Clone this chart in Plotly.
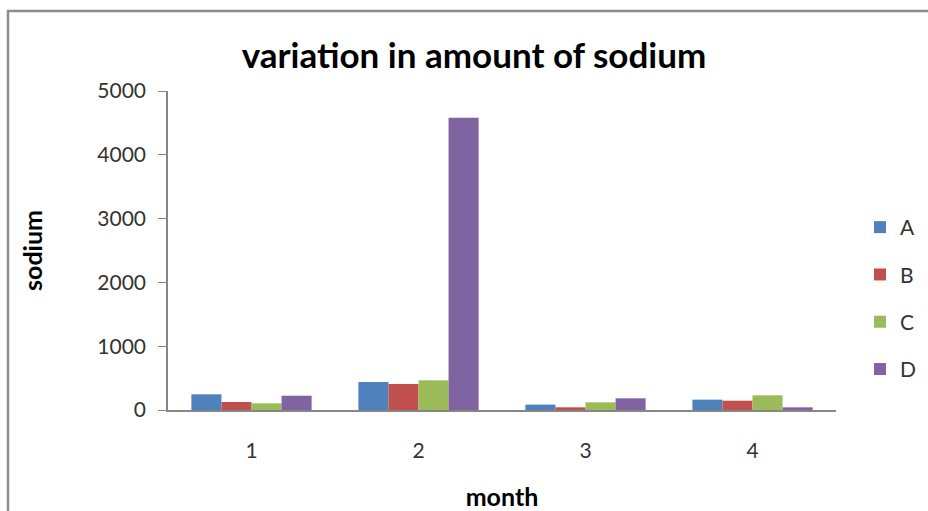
import plotly.graph_objects as go

months = ["1", "2", "3", "4"]
series_names = ["A", "B", "C", "D"]
values_A = [246, 439, 84, 162]
values_B = [125, 408, 42, 146]
values_C = [105, 465, 120, 230]
values_D = [224, 4580, 183, 42]
colors = ["#4F81BD", "#C0504D", "#9BBB59", "#8064A2"]
y_ticks = [0, 1000, 2000, 3000, 4000, 5000]

W, H = 928, 511
L, R, T, B = 168, 92, 91, 101
pw, ph = W - L - R, H - T - B

fig = go.Figure()
for name, vals, col in zip(series_names, [values_A, values_B, values_C, values_D], colors):
    fig.add_trace(go.Bar(x=months, y=vals, name=name, legendgroup=name,
                         marker=dict(color=col, line=dict(width=0))))

font_family = "Lato, 'Open Sans', sans-serif"
fig.update_layout(
    width=W, height=H,
    margin=dict(l=L, r=R, t=T, b=B, pad=0, autoexpand=False),
    paper_bgcolor="white", plot_bgcolor="white",
    barmode="group", bargap=0.28, bargroupgap=0,
    font=dict(family=font_family, color="#333333", size=21),
    title=dict(text="<b>variation in amount of sodium</b>", x=474 / W, xanchor="center",
               y=1 - 56 / H, yanchor="middle", font=dict(size=35, color="#000000", family=font_family)),
    showlegend=True,
    legend=dict(x=1 + (860 - L - pw) / pw, xanchor="left", y=(410 - 207) / ph, yanchor="top",
                font=dict(size=21, color="#333333"), tracegroupgap=17, itemwidth=30,
                bgcolor="rgba(0,0,0,0)"),
    xaxis=dict(showline=True, linecolor="#868686", linewidth=1.5, ticks="", showgrid=False,
               tickfont=dict(size=21), ticklabelstandoff=21,
               title=dict(text="<b>month</b>", font=dict(size=25, color="#000"), standoff=30)),
    yaxis=dict(range=[0, 5000], tickvals=y_ticks, showline=True, linecolor="#868686", linewidth=1.5,
               ticks="outside", ticklen=8, tickcolor="#868686", showgrid=False,
               tickfont=dict(size=21), zeroline=False, ticklabelstandoff=8,
               title=dict(text="<b>sodium</b>", font=dict(size=25, color="#000"), standoff=48)),
)

# outer chart border (extends beyond the visible window at right/bottom)
fig.add_shape(type="rect", xref="paper", yref="paper",
              x0=(8 - L) / pw, x1=(W + 20 - L) / pw,
              y0=(T + ph - (H + 20)) / ph, y1=(T + ph - 11) / ph,
              line=dict(color="#8c8c8c", width=2.5), fillcolor="rgba(0,0,0,0)", layer="below")

fig.write_html("out.html")
